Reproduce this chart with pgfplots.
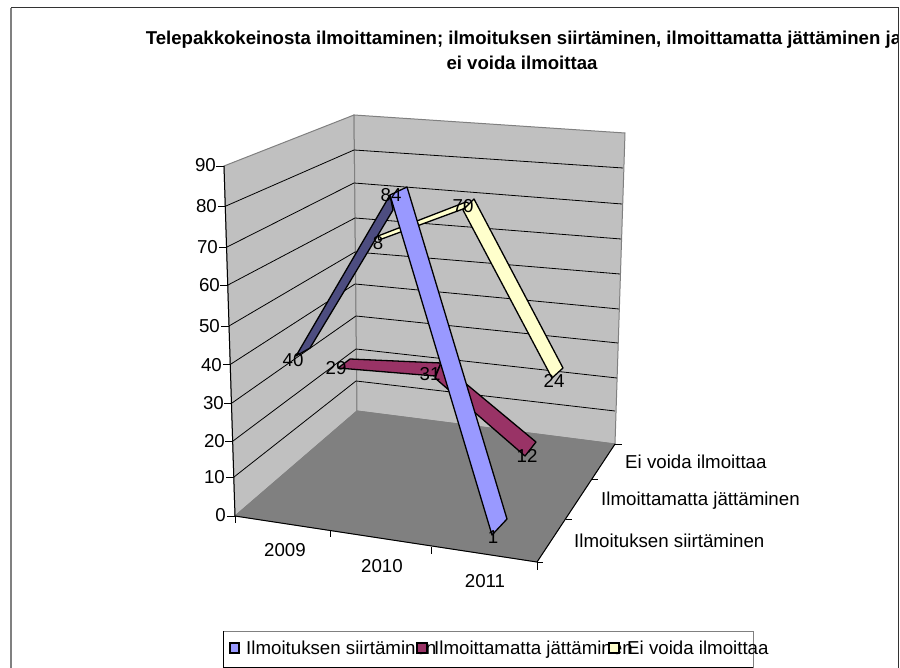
\documentclass[border=0pt]{standalone}
\usepackage{fontspec}
\setmainfont{Liberation Sans}
\usepackage{pgfplots}
\pgfplotsset{compat=1.18}
\definecolor{wallgray}{RGB}{192,192,192}
\definecolor{floorgray}{RGB}{128,128,128}
\definecolor{serblue}{RGB}{153,153,255}
\definecolor{serblued}{RGB}{77,77,128}
\definecolor{sermaroon}{RGB}{153,51,102}
\definecolor{seryellow}{RGB}{255,255,204}
% the chart is a projected 3D picture, so everything is read off in picture coordinates
\pgfplotsset{
  face/.style={fill=#1,draw=black,line width=1.3pt,line join=round},
  grid line/.style={black,line width=0.8pt},
  txt/.style={only marks,mark=none,point meta=explicit symbolic,
    nodes near coords,nodes near coords align={center},
    every node near coord/.append style={font=\fontsize{#1}{#1}\selectfont,text=black,inner sep=0pt,anchor=center}},
  txtl/.style={only marks,mark=none,point meta=explicit symbolic,
    nodes near coords,
    every node near coord/.append style={font=\fontsize{#1}{#1}\selectfont,text=black,inner sep=0pt,anchor=west,text height=0.72em,text depth=0.2em}},
  txtr/.style={only marks,mark=none,point meta=explicit symbolic,
    nodes near coords,
    every node near coord/.append style={font=\fontsize{#1}{#1}\selectfont,text=black,inner sep=0pt,anchor=east}},
}
\begin{document}
\begin{tikzpicture}
\path[use as bounding box] (0,0) rectangle (900pt,668pt);
\begin{axis}[
  at={(0,0)},anchor=south west,
  scale only axis,width=900pt,height=668pt,
  xmin=0,xmax=900,ymin=0,ymax=668,y dir=reverse,
  hide axis,clip=false,
]
% walls and floor
\addplot[fill=wallgray,draw=floorgray,line width=1pt] coordinates {(224,166) (354,115) (357,411) (235,516)} --cycle;
\addplot[fill=wallgray,draw=floorgray,line width=1pt] coordinates {(354,115) (625,133) (615,444) (357,411)} --cycle;
\addplot[fill=floorgray,draw=floorgray,line width=0.8pt] coordinates {(235,516) (357,411) (615,444) (537,562)} --cycle;
% gridlines, 80 down to 10
\addplot[grid line] coordinates {(226,206) (354,150) (623,168)};
\addplot[grid line] coordinates {(227,247) (354,183) (622,204)};
\addplot[grid line] coordinates {(228,285) (355,218) (621,239)};
\addplot[grid line] coordinates {(229,326) (355,252) (620,274)};
\addplot[grid line] coordinates {(231,364) (355,284) (619,309)};
\addplot[grid line] coordinates {(232,403) (356,316) (618,343)};
\addplot[grid line] coordinates {(233,441) (356,349) (617,378)};
\addplot[grid line] coordinates {(234,477) (356,381) (615,411)};
% axis lines and ticks
\addplot[black,line width=1pt] coordinates {(224,166) (235,516)};
\addplot[black,line width=1pt] coordinates {(235,516) (537,562) (615,444)};
\addplot[black,line width=0.8pt] coordinates {(216,166) (224,166)};
\addplot[black,line width=0.8pt] coordinates {(218,206) (226,206)};
\addplot[black,line width=0.8pt] coordinates {(219,247) (227,247)};
\addplot[black,line width=0.8pt] coordinates {(220,285) (228,285)};
\addplot[black,line width=0.8pt] coordinates {(221,326) (229,326)};
\addplot[black,line width=0.8pt] coordinates {(223,364) (231,364)};
\addplot[black,line width=0.8pt] coordinates {(224,403) (232,403)};
\addplot[black,line width=0.8pt] coordinates {(225,441) (233,441)};
\addplot[black,line width=0.8pt] coordinates {(226,477) (234,477)};
\addplot[black,line width=0.8pt] coordinates {(227,516) (235,516)};
\addplot[black,line width=0.8pt] coordinates {(235,516) (235,523)};
\addplot[black,line width=0.8pt] coordinates {(330,531) (330,537)};
\addplot[black,line width=0.8pt] coordinates {(431,547) (431,554)};
\addplot[black,line width=0.8pt] coordinates {(537,562) (537,570)};
\addplot[black,line width=0.8pt] coordinates {(537,562) (543,562)};
\addplot[black,line width=0.8pt] coordinates {(566,519) (572,519)};
\addplot[black,line width=0.8pt] coordinates {(592,479) (598,479)};
\addplot[black,line width=0.8pt] coordinates {(615,444) (622,444)};
% Ei voida ilmoittaa
\addplot[face=seryellow] coordinates {(379,240) (378,236) (466,202) (470,204) (463,209)} --cycle;
\addplot[face=seryellow] coordinates {(463,210) (474,199) (563,368) (552,378)} --cycle;
% Ilmoittamatta jattaminen
\addplot[face=sermaroon] coordinates {(338,368) (350,359) (441,363) (435,376)} --cycle;
\addplot[face=sermaroon] coordinates {(435,378) (441,363) (536,442) (525,456)} --cycle;
% Ilmoituksen siirtaminen
\addplot[face=serblued] coordinates {(296,356) (390,195) (393,210) (310,348)} --cycle;
\addplot[face=serblue] coordinates {(390,195) (407,187) (507,519) (492,535)} --cycle;
% data labels
\addplot[txt=18.7] coordinates {
  (293,360)[40] (391,195)[84] (493,537)[1]
  (336,368)[29] (430,374)[31] (527,456)[12]
  (378,243)[8] (463,206)[70] (554,381)[24]
};
% tick labels
\addplot[txtr=18.7] coordinates {
  (216,165)[90] (217,206)[80] (218,247)[70] (220,285)[60] (220,326)[50]
  (222,365)[40] (224,403)[30] (225,441)[20] (225,477)[10] (226,515)[0]
};
\addplot[txt=18.7] coordinates {(285,550)[2009] (382,566)[2010] (485,581)[2011]};
\addplot[txtl=18.7] coordinates {
  (625,465.5)[Ei voida ilmoittaa]
  (601,503)[Ilmoittamatta jättäminen]
  (574,544.5)[Ilmoituksen siirtäminen]
};
% title
\node[font=\fontsize{18.6}{18.6}\selectfont\bfseries,inner sep=0pt,anchor=center] at (axis cs:523.5,40)
  {Telepakkokeinosta ilmoittaminen; ilmoituksen siirtäminen, ilmoittamatta jättäminen ja};
\node[font=\fontsize{18.6}{18.6}\selectfont\bfseries,inner sep=0pt,anchor=center] at (axis cs:522,63)
  {ei voida ilmoittaa};
% legend, keys go on top of the overrunning text
\addplot[fill=white,draw=floorgray,line width=1pt] coordinates {(223,631) (753,631) (753,667) (223,667)} --cycle;
\addplot[black,line width=1pt] coordinates {(223,631) (223,667) (753,667)};
\node[font=\fontsize{18.7}{18.7}\selectfont,inner sep=0pt,anchor=base west] at (axis cs:246,654.5) {Ilmoituksen siirtäminen};
\node[font=\fontsize{18.7}{18.7}\selectfont,inner sep=0pt,anchor=base west] at (axis cs:434,654.5) {Ilmoittamatta jättäminen};
\node[font=\fontsize{18.7}{18.7}\selectfont,inner sep=0pt,anchor=base west] at (axis cs:627,654.5) {Ei voida ilmoittaa};
\addplot[fill=serblue,draw=black,line width=1.3pt] coordinates {(230,643) (239,643) (239,653) (230,653)} --cycle;
\addplot[fill=sermaroon,draw=black,line width=1.3pt] coordinates {(417,643) (427,643) (427,653) (417,653)} --cycle;
\addplot[fill=seryellow,draw=black,line width=1.3pt] coordinates {(609,643) (619,643) (619,653) (609,653)} --cycle;
% chart frame, the title runs into it
\addplot[fill=white,draw=none] coordinates {(898,0) (900,0) (900,668) (898,668)} --cycle;
\addplot[floorgray,line width=2pt] coordinates {(11,668) (11,8)};
\addplot[black!80,line width=1pt] coordinates {(11,8) (898,8) (898,668)};
\end{axis}
\end{tikzpicture}
\end{document}
